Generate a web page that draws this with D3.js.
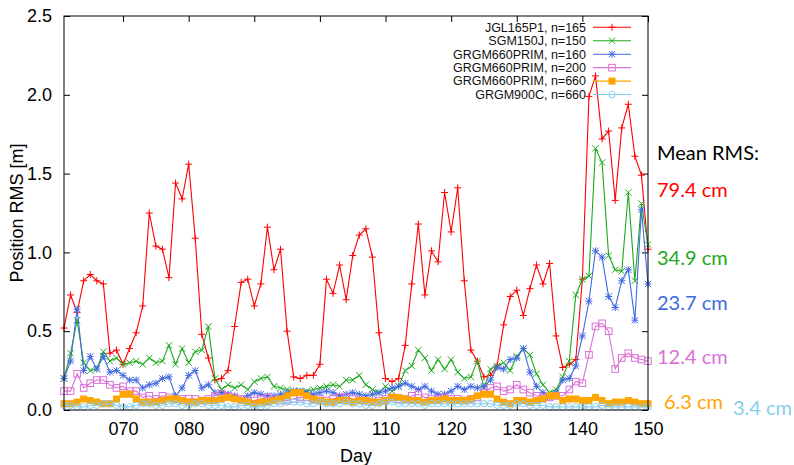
<!DOCTYPE html>
<html>
<head>
<meta charset="utf-8">
<script src="https://cdn.jsdelivr.net/npm/d3@7"></script>
<style>
  body { margin: 0; background: #fff; }
  svg { display: block; }
</style>
</head>
<body>
<div id="chart"></div>
<script>
// days 61..150
const days = d3.range(61, 151);

const jgl165 = [0.52, 0.73, 0.62, 0.82, 0.86, 0.82, 0.80, 0.36, 0.38, 0.29,
  0.39, 0.49, 0.66, 1.25, 1.04, 1.02, 0.84, 1.44, 1.34, 1.56,
  1.09, 0.48, 0.33, 0.19, 0.20, 0.25, 0.53, 0.81, 0.83, 0.66,
  0.80, 1.16, 0.89, 1.02, 0.50, 0.21, 0.20, 0.22, 0.22, 0.29,
  0.83, 0.74, 0.92, 0.70, 0.98, 1.11, 1.15, 0.97, 0.49, 0.20,
  0.18, 0.20, 0.41, 0.80, 1.18, 0.73, 1.01, 0.94, 1.38, 1.13,
  1.41, 0.82, 0.38, 0.31, 0.21, 0.22, 0.28, 0.54, 0.72, 0.76,
  0.60, 0.77, 0.92, 0.80, 0.93, 0.47, 0.27, 0.29, 0.32, 0.83,
  1.99, 2.12, 1.72, 1.77, 1.33, 1.79, 1.94, 1.61, 1.49, 1.02];

const sgm150 = [0.20, 0.36, 0.57, 0.30, 0.25, 0.26, 0.37, 0.31, 0.33, 0.29,
  0.30, 0.31, 0.29, 0.33, 0.30, 0.31, 0.41, 0.29, 0.39, 0.30,
  0.37, 0.38, 0.53, 0.20, 0.13, 0.16, 0.14, 0.16, 0.13, 0.18,
  0.20, 0.21, 0.15, 0.14, 0.13, 0.12, 0.12, 0.12, 0.13, 0.14,
  0.15, 0.16, 0.15, 0.19, 0.19, 0.22, 0.16, 0.13, 0.11, 0.15,
  0.12, 0.15, 0.25, 0.28, 0.38, 0.33, 0.25, 0.32, 0.26, 0.32,
  0.24, 0.20, 0.21, 0.31, 0.14, 0.26, 0.28, 0.30, 0.25, 0.34,
  0.39, 0.35, 0.23, 0.16, 0.11, 0.13, 0.21, 0.31, 0.73, 0.83,
  0.85, 1.66, 1.57, 0.98, 0.89, 0.88, 1.38, 0.82, 1.31, 1.05];

const grgm160 = [0.20, 0.31, 0.64, 0.25, 0.34, 0.26, 0.34, 0.24, 0.25, 0.22,
  0.19, 0.19, 0.14, 0.16, 0.17, 0.20, 0.21, 0.09, 0.14, 0.22,
  0.25, 0.14, 0.16, 0.11, 0.11, 0.10, 0.09, 0.07, 0.09, 0.11,
  0.10, 0.09, 0.09, 0.10, 0.11, 0.12, 0.12, 0.11, 0.10, 0.11,
  0.12, 0.11, 0.09, 0.10, 0.11, 0.10, 0.09, 0.10, 0.11, 0.12,
  0.14, 0.15, 0.17, 0.15, 0.13, 0.15, 0.12, 0.10, 0.10, 0.12,
  0.15, 0.13, 0.15, 0.14, 0.15, 0.19, 0.27, 0.26, 0.32, 0.33,
  0.39, 0.24, 0.15, 0.11, 0.08, 0.11, 0.19, 0.20, 0.28, 0.47,
  0.69, 1.01, 0.97, 0.72, 0.65, 0.82, 0.89, 0.57, 1.27, 0.80];

const grgm200 = [0.12, 0.12, 0.23, 0.14, 0.17, 0.19, 0.19, 0.16, 0.14, 0.15,
  0.12, 0.12, 0.08, 0.09, 0.07, 0.09, 0.08, 0.07, 0.07, 0.07,
  0.07, 0.06, 0.07, 0.09, 0.10, 0.09, 0.08, 0.07, 0.06, 0.06,
  0.07, 0.08, 0.07, 0.06, 0.06, 0.07, 0.08, 0.08, 0.07, 0.07,
  0.06, 0.07, 0.08, 0.08, 0.07, 0.06, 0.06, 0.05, 0.06, 0.07,
  0.08, 0.07, 0.07, 0.09, 0.10, 0.08, 0.07, 0.07, 0.08, 0.07,
  0.07, 0.06, 0.07, 0.08, 0.11, 0.14, 0.15, 0.12, 0.13, 0.16,
  0.13, 0.11, 0.09, 0.08, 0.08, 0.09, 0.09, 0.13, 0.18, 0.17,
  0.35, 0.53, 0.55, 0.50, 0.26, 0.33, 0.36, 0.33, 0.32, 0.31];

const grgm660 = [0.04, 0.04, 0.05, 0.07, 0.06, 0.05, 0.04, 0.04, 0.07, 0.10,
  0.10, 0.07, 0.05, 0.05, 0.05, 0.06, 0.07, 0.07, 0.06, 0.05,
  0.05, 0.06, 0.06, 0.06, 0.07, 0.08, 0.07, 0.06, 0.05, 0.04,
  0.05, 0.05, 0.06, 0.07, 0.09, 0.11, 0.11, 0.09, 0.07, 0.06,
  0.05, 0.05, 0.06, 0.06, 0.05, 0.06, 0.06, 0.05, 0.05, 0.06,
  0.08, 0.08, 0.07, 0.06, 0.06, 0.05, 0.06, 0.06, 0.07, 0.06,
  0.06, 0.06, 0.07, 0.09, 0.10, 0.10, 0.07, 0.05, 0.04, 0.06,
  0.06, 0.05, 0.06, 0.07, 0.09, 0.09, 0.06, 0.07, 0.07, 0.06,
  0.06, 0.08, 0.06, 0.04, 0.05, 0.05, 0.06, 0.05, 0.04, 0.04];

const grgm900 = [0.03, 0.03, 0.02, 0.02, 0.03, 0.03, 0.04, 0.04, 0.03, 0.02,
  0.02, 0.03, 0.04, 0.04, 0.03, 0.03, 0.04, 0.04, 0.03, 0.03,
  0.04, 0.04, 0.03, 0.03, 0.03, 0.02, 0.02, 0.03, 0.03, 0.02,
  0.02, 0.03, 0.04, 0.04, 0.05, 0.05, 0.05, 0.04, 0.04, 0.05,
  0.04, 0.04, 0.04, 0.05, 0.04, 0.04, 0.03, 0.03, 0.04, 0.05,
  0.05, 0.04, 0.04, 0.04, 0.04, 0.03, 0.04, 0.04, 0.04, 0.04,
  0.04, 0.04, 0.04, 0.04, 0.04, 0.04, 0.03, 0.03, 0.03, 0.04,
  0.04, 0.03, 0.03, 0.03, 0.02, 0.02, 0.02, 0.02, 0.02, 0.02,
  0.02, 0.02, 0.03, 0.02, 0.02, 0.02, 0.02, 0.02, 0.02, 0.02];

const seriesNames = ["JGL165P1, n=165", "SGM150J, n=150", "GRGM660PRIM, n=160",
  "GRGM660PRIM, n=200", "GRGM660PRIM, n=660", "GRGM900C, n=660"];
const seriesValues = [jgl165, sgm150, grgm160, grgm200, grgm660, grgm900];
const seriesColors = ["#ff0000", "#1ea81e", "#4169e1", "#da70d6", "#ffa500", "#87ceeb"];
const seriesMarkers = ["plus", "cross", "star", "square", "fsquare", "circle"];
const meanLabels = ["79.4 cm", "34.9 cm", "23.7 cm", "12.4 cm", "6.3 cm", "3.4 cm"];

const yTicks = [0, 0.5, 1.0, 1.5, 2.0, 2.5];
const xTicks = [70, 80, 90, 100, 110, 120, 130, 140, 150];

const W = 794, H = 465;
const plot = { left: 64, right: 648, top: 16, bottom: 410 };
const font = "'Liberation Sans', Arial, sans-serif";
const sideFont = "Lato, 'Open Sans', sans-serif";

const svg = d3.select("#chart").append("svg")
  .attr("width", W).attr("height", H);

const x = d3.scaleLinear().domain([61, 150]).range([plot.left, plot.right]);
const y = d3.scaleLinear().domain([0, 2.5]).range([plot.bottom, plot.top]);

// axes, ticks point inwards like gnuplot
const tickLen = 6;
function styleAxis(g) {
  g.select(".domain").remove();
  g.selectAll(".tick line").attr("stroke", "#000");
  g.selectAll("text").attr("font-family", font).attr("font-size", 18).attr("fill", "#000");
}

svg.append("g")
  .attr("transform", "translate(0," + plot.bottom + ")")
  .call(d3.axisBottom(x).tickValues(xTicks).tickFormat(d3.format("03d"))
    .tickSizeInner(-tickLen).tickSizeOuter(0).tickPadding(12))
  .call(styleAxis);

svg.append("g")
  .attr("transform", "translate(0," + plot.top + ")")
  .call(d3.axisTop(x).tickValues(xTicks).tickFormat("")
    .tickSizeInner(-tickLen).tickSizeOuter(0))
  .call(styleAxis);

svg.append("g")
  .attr("transform", "translate(" + plot.left + ",0)")
  .call(d3.axisLeft(y).tickValues(yTicks).tickFormat(d3.format(".1f"))
    .tickSizeInner(-tickLen).tickSizeOuter(0).tickPadding(12))
  .call(styleAxis);

svg.append("g")
  .attr("transform", "translate(" + plot.right + ",0)")
  .call(d3.axisRight(y).tickValues(yTicks).tickFormat("")
    .tickSizeInner(-tickLen).tickSizeOuter(0))
  .call(styleAxis);

// markers
function drawMarker(g, type, color, cx, cy) {
  const r = 3.5;
  if (type === "plus" || type === "star") {
    g.append("path").attr("d", `M${cx - r},${cy}H${cx + r}M${cx},${cy - r}V${cy + r}`)
      .attr("stroke", color).attr("stroke-width", 1).attr("fill", "none");
  }
  if (type === "cross" || type === "star") {
    const q = r * 0.9;
    g.append("path").attr("d", `M${cx - q},${cy - q}L${cx + q},${cy + q}M${cx - q},${cy + q}L${cx + q},${cy - q}`)
      .attr("stroke", color).attr("stroke-width", 1).attr("fill", "none");
  }
  if (type === "square") {
    g.append("rect").attr("x", cx - 3.3).attr("y", cy - 3.3).attr("width", 6.6).attr("height", 6.6)
      .attr("stroke", color).attr("stroke-width", 1).attr("fill", "none");
  }
  if (type === "fsquare") {
    g.append("rect").attr("x", cx - 3.5).attr("y", cy - 3.5).attr("width", 7).attr("height", 7)
      .attr("fill", color);
  }
  if (type === "circle") {
    g.append("circle").attr("cx", cx).attr("cy", cy).attr("r", 3.2)
      .attr("stroke", color).attr("stroke-width", 1).attr("fill", "none");
  }
}

const line = d3.line().x((d, i) => x(days[i])).y(d => y(d));

const dataG = svg.append("g");
seriesValues.forEach((vals, k) => {
  const g = dataG.append("g");
  g.append("path").datum(vals).attr("d", line)
    .attr("fill", "none").attr("stroke", seriesColors[k]).attr("stroke-width", 1.1);
  vals.forEach((v, i) => drawMarker(g, seriesMarkers[k], seriesColors[k], x(days[i]), y(v)));
});

// legend (top right, inside the frame)
const legend = svg.append("g");
seriesNames.forEach((name, k) => {
  const ly = 27.3 + k * 13.45;
  legend.append("text").attr("x", 586).attr("y", ly).attr("dy", "0.35em")
    .attr("text-anchor", "end").attr("font-family", font).attr("font-size", 12.5)
    .attr("fill", "#111").text(name);
  legend.append("line").attr("x1", 593).attr("x2", 631).attr("y1", ly).attr("y2", ly)
    .attr("stroke", seriesColors[k]).attr("stroke-width", 1.1);
  drawMarker(legend, seriesMarkers[k], seriesColors[k], 612, ly);
});

// frame
svg.append("rect")
  .attr("x", plot.left).attr("y", plot.top)
  .attr("width", plot.right - plot.left).attr("height", plot.bottom - plot.top)
  .attr("fill", "none").attr("stroke", "#000").attr("stroke-width", 1);

// axis titles
svg.append("text").attr("x", (plot.left + plot.right) / 2).attr("y", 462)
  .attr("text-anchor", "middle").attr("font-family", font).attr("font-size", 18)
  .text("Day");
svg.append("text")
  .attr("transform", "translate(23," + (plot.top + plot.bottom) / 2 + ") rotate(-90)")
  .attr("text-anchor", "middle").attr("font-family", font).attr("font-size", 18)
  .text("Position RMS [m]");

// mean RMS annotations on the right
const meanPos = [[657, 190], [657, 258], [657, 303], [657, 357], [664, 402], [733, 408]];
svg.append("text").attr("x", 657).attr("y", 153).attr("dy", "0.35em")
  .attr("font-family", sideFont).attr("font-size", 20).attr("fill", "#000")
  .text("Mean RMS:");
meanLabels.forEach((t, k) => {
  svg.append("text").attr("x", meanPos[k][0]).attr("y", meanPos[k][1]).attr("dy", "0.35em")
    .attr("font-family", sideFont).attr("font-size", 20).attr("fill", seriesColors[k])
    .text(t);
});
</script>
</body>
</html>
